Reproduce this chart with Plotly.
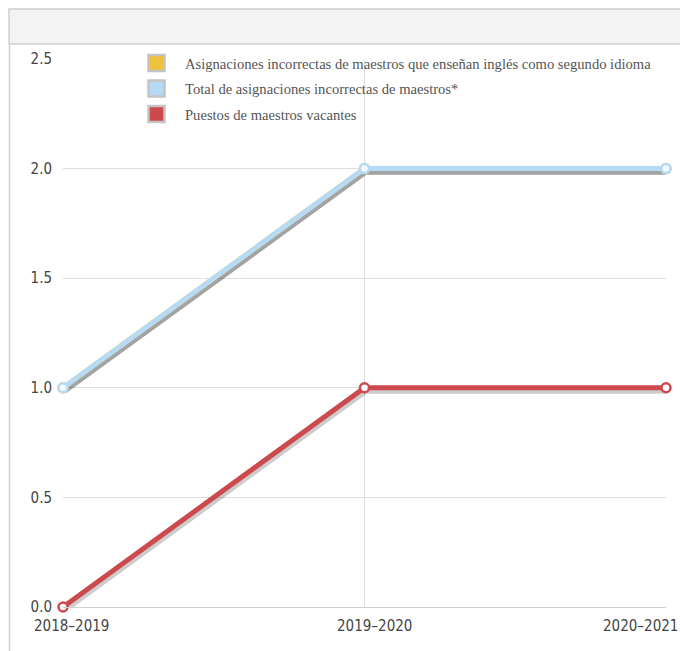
import plotly.graph_objects as go

categories = ["2018–2019", "2019–2020", "2020–2021"]
esl_misassignments = [1, 2, 2]
total_misassignments = [1, 2, 2]
vacancies = [0, 1, 1]
series_names = [
    "Asignaciones incorrectas de maestros que enseñan inglés como segundo idioma",
    "Total de asignaciones incorrectas de maestros*",
    "Puestos de maestros vacantes",
]
y_ticks = [0.0, 0.5, 1.0, 1.5, 2.0, 2.5]

colors = ["#f0c13a", "#b4daf6", "#cc4a4d"]
marker_fill = ["#fff8e0", "#f4faff", "#ffffff"]

W, H = 680, 651
L, R, T, B = 63, 14, 59, 44
pw, ph = W - L - R, H - T - B

def px(x):
    return (x - L) / pw

def py(y):
    return (H - B - y) / ph

fig = go.Figure()
xs = [0, 1, 2]
data = [esl_misassignments, total_misassignments, vacancies]

# shadows (slightly offset axes)
for vals in data:
    fig.add_trace(go.Scatter(x=xs, y=vals, mode="lines", xaxis="x2", yaxis="y2",
                             line=dict(color="rgba(0,0,0,0.2)", width=6),
                             hoverinfo="skip", showlegend=False, cliponaxis=False))
for vals, c, mf in zip(data, colors, marker_fill):
    fig.add_trace(go.Scatter(x=xs, y=vals, mode="lines+markers", xaxis="x3", yaxis="y3",
                             line=dict(color=c, width=5),
                             marker=dict(size=9, color=mf, line=dict(color=c, width=2.5)),
                             showlegend=False, cliponaxis=False))
for i, (name, c) in enumerate(zip(series_names, colors)):
    fig.add_trace(go.Scatter(x=[None], y=[None], mode="markers", name=name,
                             legendgroup=f"g{i}",
                             marker=dict(symbol="square", size=16, color=c,
                                         line=dict(color="#c4c4c4", width=2.5))))

shapes = [
    dict(type="rect", xref="paper", yref="paper", x0=px(9), x1=px(700), y0=py(44), y1=py(9),
         fillcolor="#f3f3f3", line=dict(color="#cfcfcf", width=1.5), layer="below"),
    dict(type="line", xref="paper", yref="paper", x0=px(9.5), x1=px(9.5), y0=py(44), y1=py(651),
         line=dict(color="#cfcfcf", width=1.5), layer="below"),
]

tick_font = dict(family="DejaVu Sans Condensed, Liberation Sans", size=15, color="#444444")

fig.update_layout(
    width=W, height=H,
    margin=dict(l=L, r=R, t=T, b=B),
    paper_bgcolor="white", plot_bgcolor="white",
    shapes=shapes,
    xaxis=dict(range=[0, 2], tickvals=xs, ticktext=["", "", ""], showgrid=True,
               gridcolor="#dedede", gridwidth=1, zeroline=False, showline=True,
               linecolor="#d0d0d0", linewidth=1, ticks="", fixedrange=True),
    yaxis=dict(range=[0, 2.5], tickvals=y_ticks, ticktext=[f"{v:.1f}" for v in y_ticks],
               showgrid=True, gridcolor="#dedede", zeroline=False, showline=False,
               ticks="", ticklabelstandoff=10, tickfont=tick_font),
    xaxis2=dict(range=[-1.2 * 2 / pw, 2 - 1.2 * 2 / pw], overlaying="x", visible=False),
    yaxis2=dict(range=[0.014, 2.514], overlaying="y", visible=False),
    xaxis3=dict(range=[0, 2], overlaying="x", visible=False),
    yaxis3=dict(range=[0, 2.5], overlaying="y", visible=False),
    legend=dict(x=px(128), y=py(47), xanchor="left", yanchor="top",
                bgcolor="rgba(0,0,0,0)", itemsizing="trace", tracegroupgap=3.5,
                itemwidth=47,
                font=dict(family="Liberation Serif", size=14.6, color="#555555")),
    showlegend=True,
)

xshifts = [8, 10, 14]
anchors = ["center", "center", "right"]
for x, lab, s, a in zip(xs, categories, xshifts, anchors):
    fig.add_annotation(x=x, y=0, xref="x", yref="y", text=lab, showarrow=False,
                       xanchor=a, yanchor="top", xshift=s, yshift=-8,
                       font=tick_font)

fig.write_html("out.html", config={"displayModeBar": False},
               post_script="document.body.style.margin='0';")
